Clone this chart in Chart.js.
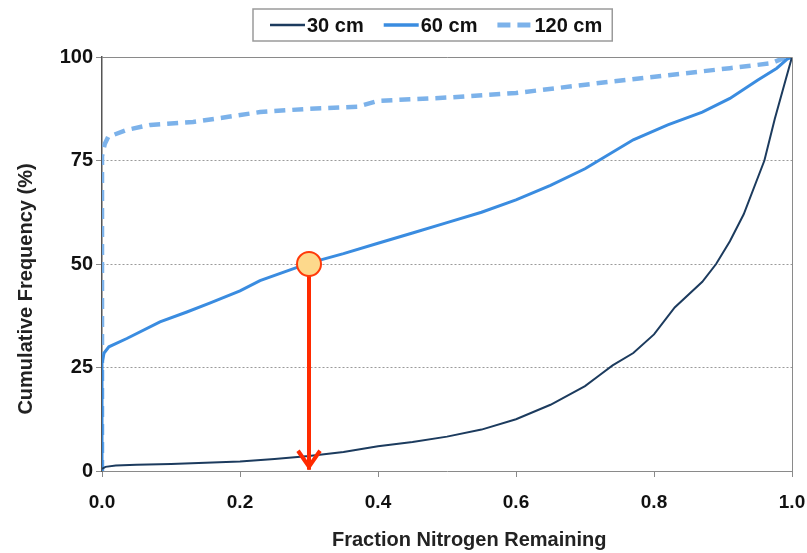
<!DOCTYPE html>
<html>
<head>
<meta charset="utf-8">
<script src="https://cdn.jsdelivr.net/npm/chart.js@4.4.1/dist/chart.umd.min.js"></script>
<style>
  html, body { margin: 0; padding: 0; background: #fff; }
  #wrap { width: 807px; height: 553px; }
</style>
</head>
<body>
<div id="wrap"><canvas id="nChart" width="807" height="553"></canvas></div>
<script>
// values
var labels = ["30 cm", "60 cm", "120 cm"];

var x30 = [0, 0.005, 0.02, 0.05, 0.1, 0.15, 0.2, 0.25, 0.3, 0.35, 0.4, 0.45, 0.5, 0.55, 0.6, 0.65, 0.7, 0.72, 0.74, 0.77, 0.8, 0.83, 0.87, 0.89, 0.91, 0.93, 0.96, 0.975, 0.99, 1.0];
var y30 = [0.5, 1, 1.3, 1.5, 1.7, 2, 2.3, 2.9, 3.6, 4.6, 6, 7, 8.3, 10, 12.5, 16, 20.5, 23, 25.5, 28.5, 33, 39.5, 45.7, 50, 55.5, 62, 75, 85, 94, 100];

var x60 = [0, 0, 0.003, 0.01, 0.036, 0.084, 0.123, 0.157, 0.2, 0.229, 0.3, 0.35, 0.4, 0.45, 0.5, 0.55, 0.6, 0.65, 0.7, 0.77, 0.82, 0.87, 0.91, 0.95, 0.978, 0.993, 1.0];
var y60 = [0, 26, 28.5, 30, 32, 36, 38.4, 40.6, 43.5, 46, 50.2, 52.5, 55, 57.5, 60, 62.5, 65.5, 69, 73, 80, 83.6, 86.7, 90, 94.4, 97.3, 99.5, 100];

var x120 = [0, 0, 0.004, 0.009, 0.036, 0.07, 0.132, 0.181, 0.229, 0.3, 0.37, 0.4, 0.5, 0.6, 0.72, 0.82, 0.91, 0.97, 0.986, 1.0];
var y120 = [0, 76, 79, 80.7, 82.4, 83.6, 84.3, 85.5, 86.7, 87.5, 88, 89.4, 90.2, 91.3, 93.7, 95.6, 97.3, 98.5, 99.6, 100];

// the marked point and the arrow down to the x axis
var markX = [0.3];
var markY = [50];
var arrowX = [0.3, 0.3];
var arrowY = [50, 0.3];

var xTicks = [0, 0.2, 0.4, 0.6, 0.8, 1.0];
var yTicks = [0, 25, 50, 75, 100];

function pts(xs, ys) {
    return xs.map(function (x, i) { return {x: x, y: ys[i]}; });
}

var FONT = "'Liberation Sans', Arial, sans-serif";

// frame round the plot area + arrowhead + boxed legend
var extras = {
    id: "extras",
    afterDatasetsDraw: function (chart) {
        var ctx = chart.ctx;
        var a = chart.chartArea;
        ctx.save();
        ctx.strokeStyle = "#8a8a8a";
        ctx.lineWidth = 1;
        ctx.beginPath();
        ctx.moveTo(a.left, a.top + 0.5);
        ctx.lineTo(a.right + 0.5, a.top + 0.5);
        ctx.lineTo(a.right + 0.5, a.bottom);
        ctx.stroke();

        // arrowhead at the end of the red line
        var xs = chart.scales.x, ys = chart.scales.y;
        var tx = xs.getPixelForValue(arrowX[1]);
        var ty = ys.getPixelForValue(arrowY[1]);
        ctx.strokeStyle = "#ff2a00";
        ctx.lineWidth = 4;
        ctx.lineCap = "butt";
        ctx.lineJoin = "miter";
        ctx.beginPath();
        ctx.moveTo(tx - 11, ty - 19);
        ctx.lineTo(tx, ty - 3);
        ctx.lineTo(tx + 11, ty - 19);
        ctx.stroke();
        ctx.restore();
    },
    afterDraw: function (chart) {
        var ctx = chart.ctx;
        ctx.save();
        ctx.font = "bold 20px " + FONT;
        ctx.textBaseline = "middle";
        ctx.textAlign = "left";
        var x = 270, y = 25, start = x;
        chart.data.datasets.forEach(function (ds) {
            if (labels.indexOf(ds.label) < 0) return;
            ctx.strokeStyle = ds.borderColor;
            ctx.lineWidth = ds.borderWidth + 0.5;
            ctx.setLineDash(ds.borderDash ? [13, 7] : []);
            ctx.beginPath();
            ctx.moveTo(x, y);
            ctx.lineTo(x + 35, y);
            ctx.stroke();
            ctx.setLineDash([]);
            ctx.fillStyle = "#111";
            ctx.fillText(ds.label, x + 37, y + 1);
            x += 37 + ctx.measureText(ds.label).width + 20;
        });
        ctx.strokeStyle = "#9a9a9a";
        ctx.lineWidth = 1.5;
        ctx.strokeRect(start - 17, 9, (x - 20 + 10) - (start - 17), 32);
        ctx.restore();
    }
};

new Chart(document.getElementById("nChart"), {
    type: "scatter",
    data: {
        datasets: [
            {
                label: labels[0],
                data: pts(x30, y30),
                showLine: true,
                borderColor: "#1c3b5e",
                backgroundColor: "#1c3b5e",
                borderWidth: 2,
                pointRadius: 0,
                order: 3
            },
            {
                label: labels[1],
                data: pts(x60, y60),
                showLine: true,
                borderColor: "#3a8ce0",
                backgroundColor: "#3a8ce0",
                borderWidth: 3,
                pointRadius: 0,
                order: 3
            },
            {
                label: labels[2],
                data: pts(x120, y120),
                showLine: true,
                borderColor: "#7cb2ea",
                backgroundColor: "#7cb2ea",
                borderWidth: 4.5,
                borderDash: [11, 7],
                pointRadius: 0,
                order: 3
            },
            {
                label: "arrow",
                data: pts(arrowX, arrowY),
                showLine: true,
                borderColor: "#ff2a00",
                borderWidth: 4,
                pointRadius: 0,
                order: 2
            },
            {
                label: "mark",
                data: pts(markX, markY),
                pointRadius: 12,
                pointBackgroundColor: "#fdd98c",
                pointBorderColor: "#ff3a0a",
                pointBorderWidth: 2,
                order: 1
            }
        ]
    },
    options: {
        responsive: false,
        animation: false,
        layout: { padding: { top: 57, right: 0, left: 0, bottom: 0 } },
        plugins: {
            tooltip: { enabled: false },
            legend: { display: false }
        },
        scales: {
            x: {
                type: "linear",
                min: 0,
                max: 1,
                afterBuildTicks: function (s) { s.ticks = xTicks.map(function (v) { return {value: v}; }); },
                afterFit: function (s) { s.height = 82; s.paddingLeft = 0; s.paddingRight = 15; },
                ticks: {
                    color: "#111",
                    padding: 14,
                    font: { family: FONT, size: 19, weight: "bold" },
                    callback: function (v) { return Number(v).toFixed(1); }
                },
                grid: {
                    drawOnChartArea: false,
                    drawTicks: true,
                    tickLength: 6,
                    tickColor: "#8a8a8a"
                },
                border: { color: "#8a8a8a", width: 1 },
                title: {
                    display: true,
                    // leading spaces nudge the title right, as in the original
                    text: "        Fraction Nitrogen Remaining",
                    color: "#222",
                    padding: { top: 4, bottom: 1 },
                    font: { family: FONT, size: 20, weight: "bold" }
                }
            },
            y: {
                min: 0,
                max: 100,
                afterBuildTicks: function (s) { s.ticks = yTicks.map(function (v) { return {value: v}; }); },
                afterFit: function (s) { s.width = 102; },
                ticks: {
                    color: "#111",
                    padding: 3,
                    font: { family: FONT, size: 20, weight: "bold" }
                },
                grid: {
                    color: function (c) {
                        var v = c.tick ? c.tick.value : null;
                        return (v === 0 || v === 100) ? "rgba(0,0,0,0)" : "#9a9a9a";
                    },
                    lineWidth: 1,
                    drawTicks: true,
                    tickLength: 6,
                    tickColor: "#8a8a8a"
                },
                border: { color: "#555", width: 1.5, dash: [2, 2] },
                title: {
                    display: true,
                    // trailing spaces nudge the rotated title down
                    text: "Cumulative Frequency (%)         ",
                    color: "#222",
                    padding: { top: 14, bottom: 4 },
                    font: { family: FONT, size: 20, weight: "bold" }
                }
            }
        }
    },
    plugins: [extras]
});
</script>
</body>
</html>
